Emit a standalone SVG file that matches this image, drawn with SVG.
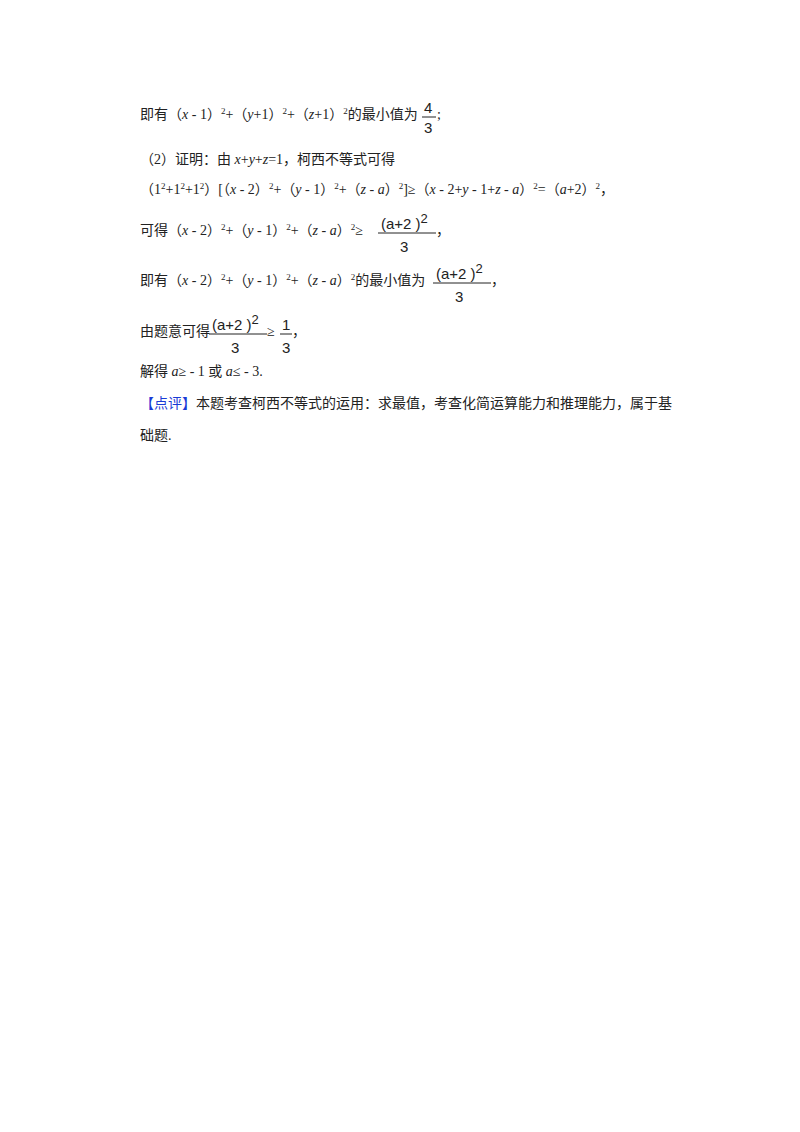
<svg xmlns="http://www.w3.org/2000/svg" width="800" height="1132" viewBox="0 0 800 1132">
<style>
text{font-family:"Liberation Serif","Noto Sans CJK SC",serif;font-size:14px;fill:#222}
.i{font-style:italic}
.s{font-size:9px}
.f{font-family:"Liberation Sans","DejaVu Sans",sans-serif;font-size:15px}
.b{fill:#1a3bd6}
line{stroke:#222;stroke-width:1}
</style>
<rect width="800" height="1132" fill="#fff"/>
<text x="140" y="119">即有（<tspan class="i">x</tspan> - 1）<tspan class="s" dy="-5">2</tspan><tspan dy="5">+（</tspan><tspan class="i">y</tspan>+1）<tspan class="s" dy="-5">2</tspan><tspan dy="5">+（</tspan><tspan class="i">z</tspan>+1）<tspan class="s" dy="-5">2</tspan><tspan dy="5">的最小值为</tspan></text>
<text class="f" x="424" y="113">4</text><line x1="422" y1="117" x2="436" y2="117"/><text class="f" x="424" y="133">3</text><text x="437" y="119">;</text>
<text x="140" y="164">（2）证明：由 <tspan class="i">x</tspan>+<tspan class="i">y</tspan>+<tspan class="i">z</tspan>=1，柯西不等式可得</text>
<text x="140" y="194">（1<tspan class="s" dy="-5">2</tspan><tspan dy="5">+1</tspan><tspan class="s" dy="-5">2</tspan><tspan dy="5">+1</tspan><tspan class="s" dy="-5">2</tspan><tspan dy="5">）[（</tspan><tspan class="i">x</tspan> - 2）<tspan class="s" dy="-5">2</tspan><tspan dy="5">+（</tspan><tspan class="i">y</tspan> - 1）<tspan class="s" dy="-5">2</tspan><tspan dy="5">+（</tspan><tspan class="i">z</tspan> - <tspan class="i">a</tspan>）<tspan class="s" dy="-5">2</tspan><tspan dy="5">]≥（</tspan><tspan class="i">x</tspan> - 2+<tspan class="i">y</tspan> - 1+<tspan class="i">z</tspan> - <tspan class="i">a</tspan>）<tspan class="s" dy="-5">2</tspan><tspan dy="5">=（</tspan><tspan class="i">a</tspan>+2）<tspan class="s" dy="-5">2</tspan><tspan dy="5">，</tspan></text>
<text x="140" y="235">可得（<tspan class="i">x</tspan> - 2）<tspan class="s" dy="-5">2</tspan><tspan dy="5">+（</tspan><tspan class="i">y</tspan> - 1）<tspan class="s" dy="-5">2</tspan><tspan dy="5">+（</tspan><tspan class="i">z</tspan> - <tspan class="i">a</tspan>）<tspan class="s" dy="-5">2</tspan><tspan dy="5">≥</tspan></text>
<text class="f" x="381" y="229">(a+2 )<tspan dy="-6" font-size="13">2</tspan></text><line x1="378" y1="233" x2="436" y2="233"/><text class="f" x="400" y="252">3</text><text x="436" y="235">，</text>
<text x="140" y="285">即有（<tspan class="i">x</tspan> - 2）<tspan class="s" dy="-5">2</tspan><tspan dy="5">+（</tspan><tspan class="i">y</tspan> - 1）<tspan class="s" dy="-5">2</tspan><tspan dy="5">+（</tspan><tspan class="i">z</tspan> - <tspan class="i">a</tspan>）<tspan class="s" dy="-5">2</tspan><tspan dy="5">的最小值为</tspan></text>
<text class="f" x="436" y="279">(a+2 )<tspan dy="-6" font-size="13">2</tspan></text><line x1="433" y1="283" x2="491" y2="283"/><text class="f" x="455" y="302">3</text><text x="491" y="285">，</text>
<text x="140" y="336">由题意可得</text>
<text class="f" x="212" y="330">(a+2 )<tspan dy="-6" font-size="13">2</tspan></text><line x1="209" y1="334" x2="267" y2="334"/><text class="f" x="231" y="353">3</text>
<text x="267" y="336">≥</text><text class="f" x="282" y="330">1</text><line x1="280" y1="334" x2="292" y2="334"/><text class="f" x="282" y="353">3</text><text x="292" y="336">，</text>
<text x="140" y="376">解得 <tspan class="i">a</tspan>≥ - 1 或 <tspan class="i">a</tspan>≤ - 3.</text>
<text x="140" y="408"><tspan class="b">【点评】</tspan>本题考查柯西不等式的运用：求最值，考查化简运算能力和推理能力，属于基</text>
<text x="140" y="440">础题.</text>
</svg>
